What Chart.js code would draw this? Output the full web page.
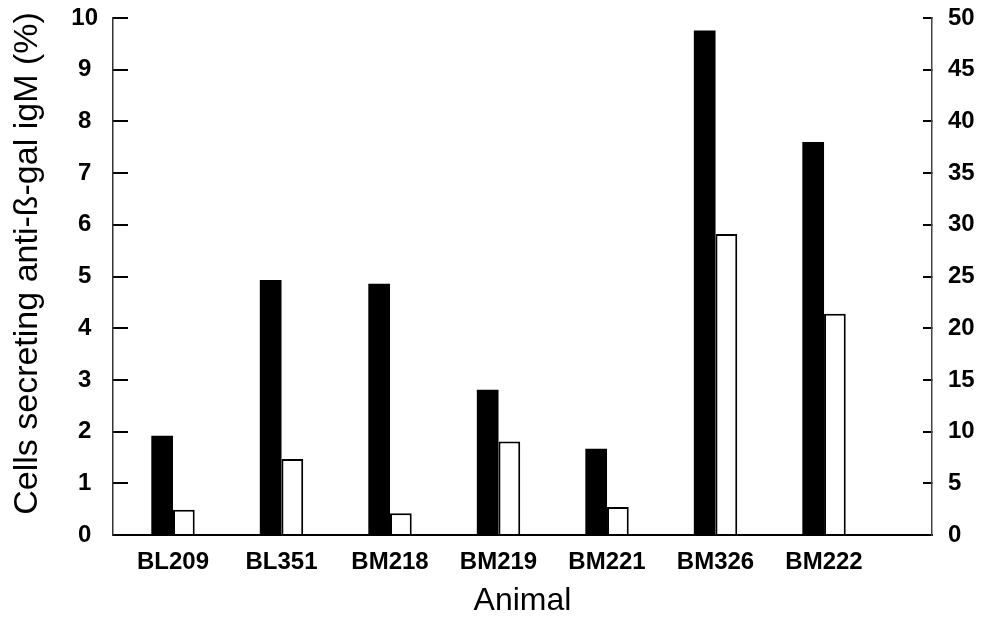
<!DOCTYPE html>
<html><head><meta charset="utf-8">
<script src="https://cdn.jsdelivr.net/npm/chart.js@4/dist/chart.umd.min.js"></script>
<style>html,body{margin:0;padding:0;background:#fff}#wrap{width:982px;height:629px;position:relative}</style>
</head><body><div id="wrap"><canvas id="c"></canvas></div>
<script>
const categories = ['BL209', 'BL351', 'BM218', 'BM219', 'BM221', 'BM326', 'BM222'];
const blackValues = [1.92, 4.93, 4.86, 2.81, 1.67, 9.76, 7.6];      // left axis (%)
const whiteValues = [2.45, 7.35, 2.1, 9.05, 2.7, 29.1, 21.4];       // right axis
const leftTicks = [0, 1, 2, 3, 4, 5, 6, 7, 8, 9, 10];
const rightTicks = [0, 5, 10, 15, 20, 25, 30, 35, 40, 45, 50];
const xTitle = 'Animal';
const yTitle = 'Cells secreting anti-ß-gal igM (%)';

const FAM = '"Liberation Sans", Arial, Helvetica, sans-serif';

// Left axis title, drawn as canvas text next to the left scale
const yTitlePlugin = {
  id: 'yTitlePlugin',
  afterDraw(chart) {
    const {ctx} = chart;
    const s = chart.scales.y;
    ctx.save();
    ctx.font = '34px ' + FAM;
    ctx.fillStyle = '#000';
    ctx.textAlign = 'center';
    ctx.textBaseline = 'middle';
    ctx.translate(s.left + 28, (s.top + s.bottom) / 2 - 13);
    ctx.rotate(-Math.PI / 2);
    ctx.fillText(yTitle, 0, 0);
    ctx.restore();
  }
};

new Chart(document.getElementById('c'), {
  type: 'bar',
  data: {
    datasets: [
      {
        label: 'black',
        data: blackValues.map((v, i) => ({x: i, y: v})),
        xAxisID: 'x', yAxisID: 'y',
        backgroundColor: '#000', borderWidth: 0,
        categoryPercentage: 0.4, barPercentage: 1
      },
      {
        label: 'white',
        data: whiteValues.map((v, i) => ({x: i, y: v})),
        xAxisID: 'x', yAxisID: 'y1',
        backgroundColor: '#fff', borderColor: '#000',
        borderWidth: {top: 2, left: 2, right: 2, bottom: 0},
        borderSkipped: false,
        categoryPercentage: 0.4, barPercentage: 1
      }
    ]
  },
  options: {
    responsive: true, maintainAspectRatio: false, animation: false,
    layout: {padding: {top: 18, left: 0, right: 0, bottom: 0}},
    plugins: {legend: {display: false}, tooltip: {enabled: false}},
    scales: {
      x: {
        type: 'linear', position: 'bottom', min: -0.553, max: 6.995, offset: false,
        grid: {display: false, drawTicks: false},
        border: {display: true, color: '#000', width: 2},
        afterBuildTicks: s => { s.ticks = categories.map((c, i) => ({value: i})); },
        afterFit: s => { s.height = 94; },
        ticks: {
          autoSkip: false, maxRotation: 0, padding: 13, color: '#000',
          font: {family: FAM, size: 24, weight: 'bold'},
          callback: v => categories[v] ?? ''
        },
        title: {display: true, text: xTitle, color: '#000',
          font: {family: FAM, size: 32}, padding: {top: 0, bottom: 9}}
      },
      y: {
        type: 'linear', position: 'left', min: 0, max: 10,
        afterBuildTicks: s => { s.ticks = leftTicks.map(v => ({value: v})); },
        afterFit: s => { s.width = 113; s.paddingTop = 12; s.paddingBottom = 12; },
        grid: {drawOnChartArea: false, tickLength: -15, color: '#000', lineWidth: 2},
        border: {display: true, color: '#333', width: 1.5, dash: [5, 3]},
        ticks: {padding: 30, crossAlign: 'center', color: '#000',
          font: {family: FAM, size: 24, weight: 'bold'}},
        title: {display: false, text: yTitle}
      },
      y1: {
        type: 'linear', position: 'right', min: 0, max: 50,
        afterBuildTicks: s => { s.ticks = rightTicks.map(v => ({value: v})); },
        afterFit: s => { s.width = 50; s.paddingTop = 12; s.paddingBottom = 12; },
        grid: {drawOnChartArea: false, tickLength: -9, color: '#000', lineWidth: 2},
        border: {display: true, color: '#444', width: 1.5, dash: [5, 3]},
        ticks: {padding: 25, color: '#000',
          font: {family: FAM, size: 24, weight: 'bold'}}
      }
    }
  },
  plugins: [yTitlePlugin]
});
</script>
</body></html>
